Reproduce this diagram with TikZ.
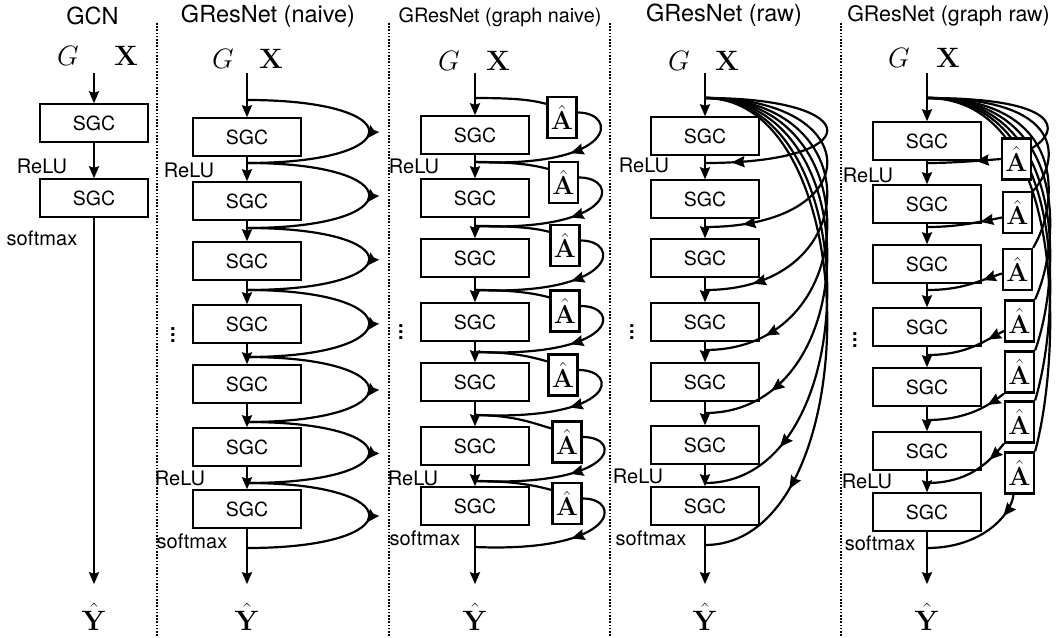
\RequirePackage{fix-cm}
\documentclass[tikz,border=0pt]{standalone}
\usepackage[no-math]{fontspec}
\newfontfamily\hv{TeX Gyre Heros}
\usetikzlibrary{arrows.meta,decorations.markings,backgrounds,calc}
\begin{document}
\begin{tikzpicture}[x=1pt,y=-1pt,
  sgc/.style={draw,line width=1.4pt,minimum width=108pt,minimum height=38pt,inner sep=0pt,font=\hv\fontsize{19.5}{20}\selectfont},
  ahat/.style={draw,fill=white,line width=2.2pt,minimum width=29pt,minimum height=41pt,inner sep=0pt,font=\fontsize{26}{27}\selectfont},
  lab/.style={font=\hv\fontsize{20}{21}\selectfont,inner sep=0pt,anchor=base},
  ttl/.style={font=\hv\fontsize{23.5}{24}\selectfont,inner sep=0pt,anchor=base},
  mth/.style={font=\fontsize{28}{29}\selectfont,inner sep=0pt,anchor=base},
  vdts/.style={font=\hv\bfseries\fontsize{20}{6}\selectfont,inner sep=0pt},
  flow/.style={line width=2.2pt},
  arr/.style={flow,-{Stealth[length=12pt,width=10pt,inset=1.5pt]}},
  midarr/.style={postaction={decorate,decoration={markings,mark=at position #1 with {\arrow{Stealth[length=13pt,width=11pt,inset=1.5pt]}}}}},
  sepline/.style={line width=1.4pt,dash pattern=on 1.6pt off 1.6pt},
]
\useasboundingbox (0,0) rectangle (1057,637);
\begin{pgfonlayer}{background}
\fill[white] (0,0) rectangle (1057,637);
\end{pgfonlayer}

% separators
\foreach \xx in {157,389,610,841} \draw[sepline] (\xx,23) -- (\xx,637);

% ================= column 1: GCN
\node[ttl] (t1) at (92.5,24) {GCN};
\node[mth] (g1) at (68,65) {$G$};
\node[mth] (x1) at (126,65) {$\mathbf{X}$};
\coordinate (s1) at (94,73);
\node[sgc] (b1-1) at (94,123) {SGC};
\node[sgc] (b1-2) at (94,198) {SGC};
\node[lab] (r1) at (42,173) {ReLU};
\node[lab] (sm1) at (42,245) {softmax};
\node[mth] (y1) at (94,630) {$\hat{\mathbf{Y}}$};
\draw[arr] (s1) -- (b1-1.north);
\draw[arr] (b1-1.south) -- (b1-2.north);
\draw[arr,shorten >=19pt] (b1-2.south) -- (y1.north);

% ================= column 2: GResNet (naive)
\node[ttl] (t2) at (268,22) {GResNet (naive)};
\node[mth] (g2) at (223,68) {$G$};
\node[mth] (x2) at (271,68) {$\mathbf{X}$};
\coordinate (s2) at (247,73);
\foreach \kk/\yy in {0/100,1/163,2/228,3/290,4/357,5/422,6/483,7/548}
  \coordinate (j2-\kk) at (247,\yy);
\foreach \kk/\yy in {1/137,2/201,3/261,4/324,5/384,6/447,7/509}
  \node[sgc] (b2-\kk) at (247,\yy) {SGC};
\node[lab] (r2a) at (189,177) {ReLU};
\node[lab] (r2b) at (180,485) {ReLU};
\node[lab] (sm2) at (192,548) {softmax};
\node[vdts] (d2) at (173,335) {\vbox{\hbox{.}\hbox{.}\hbox{.}}};
\node[mth] (y2) at (247,630) {$\hat{\mathbf{Y}}$};
\draw[arr] (s2) -- (b2-1.north);
\foreach \kk [evaluate=\kk as \nn using int(\kk+1)] in {1,...,6}
  \draw[arr] (b2-\kk.south) -- (b2-\nn.north);
\draw[arr,shorten >=19pt] (b2-7.south) -- (y2.north);
\begin{pgfonlayer}{background}
\foreach \kk [evaluate=\kk as \nn using int(\kk+1)] in {0,...,6}
  \draw[flow,midarr=.53] (j2-\kk) .. controls +(163,0) and +(163,0) .. (j2-\nn);
\end{pgfonlayer}

% ================= column 3: GResNet (graph naive)
\node[ttl,font=\hv\fontsize{19.8}{20}\selectfont] (t3) at (500,23) {GResNet (graph naive)};
\node[mth] (g3) at (449,70) {$G$};
\node[mth] (x3) at (498,70) {$\mathbf{X}$};
\coordinate (s3) at (475,73);
\foreach \kk/\yy in {0/98,1/162,2/226,3/290,4/352,5/415,6/481,7/547}
  \coordinate (j3-\kk) at (475,\yy);
\foreach \kk/\yy in {1/135,2/198,3/258,4/322,5/382,6/446,7/506}
  \node[sgc] (b3-\kk) at (475,\yy) {SGC};
\foreach \kk/\xx/\yy in {1/562/117.5,2/563.5/182.5,3/565/245.5,4/565/311,5/563/375,6/567/442,7/567/503.5}
  \node[ahat] (a3-\kk) at (\xx,\yy) {$\hat{\mathbf{A}}$};
\node[lab] (r3a) at (414,173) {ReLU};
\node[lab] (r3b) at (413,485) {ReLU};
\node[lab] (sm3) at (425,545) {softmax};
\node[vdts] (d3) at (401,332) {\vbox{\hbox{.}\hbox{.}\hbox{.}}};
\node[mth] (y3) at (475,630) {$\hat{\mathbf{Y}}$};
\draw[arr] (s3) -- (b3-1.north);
\foreach \kk [evaluate=\kk as \nn using int(\kk+1)] in {1,...,6}
  \draw[arr] (b3-\kk.south) -- (b3-\nn.north);
\draw[arr,shorten >=19pt] (b3-7.south) -- (y3.north);
\begin{pgfonlayer}{background}
\foreach \kk [evaluate=\kk as \mm using int(\kk-1)] in {1,...,7} {
  \draw[flow] (j3-\mm) .. controls +(40,0) and +(-15,-4) .. ([yshift=-8pt]a3-\kk.north west);
  \draw[flow,midarr=.43] ([yshift=5pt]a3-\kk.east) .. controls +(41,0) and +(143,6) .. (j3-\kk);
}
\end{pgfonlayer}

% ================= column 4: GResNet (raw)
\node[ttl] (t4) at (724,21) {GResNet (raw)};
\node[mth] (g4) at (679,70) {$G$};
\node[mth] (x4) at (727,70) {$\mathbf{X}$};
\coordinate (s4) at (705,73);
\foreach \kk/\yy in {0/98,1/163,2/227,3/290,4/350,5/413,6/483,7/545}
  \coordinate (j4-\kk) at (705,\yy);
\foreach \kk/\yy in {1/136,2/199,3/258,4/322,5/382,6/445,7/506}
  \node[sgc] (b4-\kk) at (705,\yy) {SGC};
\node[lab] (r4a) at (644,172) {ReLU};
\node[lab] (r4b) at (638,483) {ReLU};
\node[lab] (sm4) at (651,545) {softmax};
\node[vdts] (d4) at (632,332) {\vbox{\hbox{.}\hbox{.}\hbox{.}}};
\node[mth] (y4) at (705,630) {$\hat{\mathbf{Y}}$};
\draw[arr] (s4) -- (b4-1.north);
\foreach \kk [evaluate=\kk as \nn using int(\kk+1)] in {1,...,6}
  \draw[arr] (b4-\kk.south) -- (b4-\nn.north);
\draw[arr,shorten >=19pt] (b4-7.south) -- (y4.north);
\begin{pgfonlayer}{background}
\foreach \kk/\pp in {1/.9,2/.875,3/.86,4/.84,5/.84,6/.83,7/.81}
  \draw[flow,midarr=\pp] (j4-0) .. controls +(163,0) and +(163,0) .. (j4-\kk);
\end{pgfonlayer}

% ================= column 5: GResNet (graph raw)
\node[ttl,font=\hv\fontsize{21.4}{22}\selectfont] (t5) at (948.5,21) {GResNet (graph raw)};
\node[mth] (g5) at (899,67) {$G$};
\node[mth] (x5) at (948,67) {$\mathbf{X}$};
\coordinate (s5) at (927,73);
\foreach \kk/\yy in {0/98,1/163,2/227,3/290,4/355,5/420,6/483,7/548}
  \coordinate (j5-\kk) at (927,\yy);
\foreach \kk/\yy in {1/141,2/204,3/264,4/327,5/387,6/451,7/512}
  \node[sgc] (b5-\kk) at (927,\yy) {SGC};
\foreach \kk/\xx/\yy in {1/1016.5/159,2/1017.5/212.5,3/1017.5/269.5,4/1019.5/321,5/1019.5/372,6/1019.5/422,7/1019.5/473}
  \node[ahat] (a5-\kk) at (\xx,\yy) {$\hat{\mathbf{A}}$};
\node[lab] (r5a) at (868,182) {ReLU};
\node[lab] (r5b) at (867,488) {ReLU};
\node[lab] (sm5) at (880,550) {softmax};
\node[vdts] (d5) at (855,340) {\vbox{\hbox{.}\hbox{.}\hbox{.}}};
\node[mth] (y5) at (927,630) {$\hat{\mathbf{Y}}$};
\draw[arr] (s5) -- (b5-1.north);
\foreach \kk [evaluate=\kk as \nn using int(\kk+1)] in {1,...,6}
  \draw[arr] (b5-\kk.south) -- (b5-\nn.north);
\draw[arr,shorten >=19pt] (b5-7.south) -- (y5.north);
\begin{pgfonlayer}{background}
\draw[flow] (j5-0) .. controls +(133,0) and +(30,-18) .. ([yshift=11pt]a5-1.east);
\foreach \kk/\dd in {2/30,3/45,4/60,5/75,6/90,7/100}
  \draw[flow] (j5-0) .. controls +(140,0) and +(27,-\dd) .. (a5-\kk.north east);
\draw[flow,midarr=.34] (a5-1.west) .. controls +(-25,2) and +(25,0) .. (j5-1);
\draw[flow,midarr=.29] ([yshift=-5pt]a5-2.west) .. controls +(-25,5) and +(30,0) .. (j5-2);
\draw[flow,midarr=.26] ([yshift=-4pt]a5-3.west) .. controls +(-25,8) and +(35,0) .. (j5-3);
\draw[flow,midarr=.22] ([yshift=-10pt]a5-4.west) .. controls +(-20,10) and +(40,0) .. (j5-4);
\draw[flow,midarr=.24] (a5-5.south west) .. controls +(-15,12) and +(40,0) .. (j5-5);
\draw[flow,midarr=.24] (a5-6.south west) .. controls +(-12,15) and +(45,0) .. (j5-6);
\draw[flow,midarr=.22] ([xshift=-6pt]a5-7.south) .. controls +(-2,20) and +(55,0) .. (j5-7);
\end{pgfonlayer}
\end{tikzpicture}
\end{document}
